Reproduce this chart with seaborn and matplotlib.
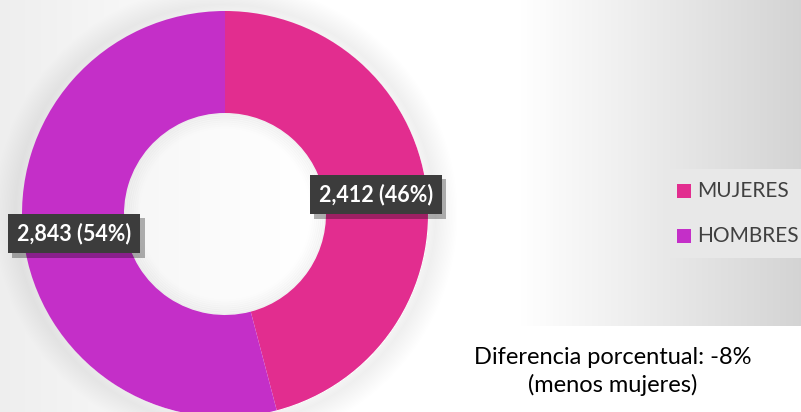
import numpy as np
import matplotlib
matplotlib.use("Agg")
import matplotlib.pyplot as plt
import matplotlib.patheffects as pe
from matplotlib.patches import Rectangle, Circle
import seaborn as sns

# ---- data ----
categories = ["MUJERES", "HOMBRES"]
values = [2412, 2843]
colors = ["#E22D8F", "#C42FC8"]
note_lines = ["Diferencia porcentual: -8%", "(menos mujeres)"]

sns.set_theme(style="white")
plt.rcParams["font.family"] = ["Lato", "DejaVu Sans"]

W, H = 801, 412
fig = plt.figure(figsize=(W / 100, H / 100), dpi=100)
ax = fig.add_axes([0, 0, 1, 1])
ax.set_xlim(0, W)
ax.set_ylim(0, H)
ax.set_aspect("equal")
ax.axis("off")

# ---- background gradient ----
xs = np.arange(W)
ys = np.arange(H)
X, Y = np.meshgrid(xs, ys)
base = np.interp(X, [0, 120, 300, 520, 801], [0.935, 0.965, 1.0, 1.0, 0.83])
cx, cy_top = 225, 214
d = np.sqrt((X - cx) ** 2 + (Y - cy_top) ** 2)
glow = np.clip(1 - np.abs(d - 210) / 22, 0, 1) * 0.06
bg = np.clip(base - glow * (d > 203), 0, 1)
img = np.dstack([bg, bg, bg])
ax.imshow(img, extent=[0, W, 0, H], origin="upper", zorder=0, interpolation="bilinear")

# white box bottom-right
ax.add_patch(Rectangle((432, 0), W - 432, H - 326, facecolor="white", edgecolor="none", zorder=1))

# ---- donut ----
center = (225, H - 214)
R = 203
ring = 102
wedges, _ = ax.pie(values, colors=colors, startangle=90, counterclock=False,
                   radius=R, center=center, frame=True,
                   wedgeprops=dict(width=ring, edgecolor="none", linewidth=0))
for w in wedges:
    w.set_zorder(3)
ax.set_xlim(0, W)
ax.set_ylim(0, H)
ax.axis("off")

# inner hole subtle shade
for i, a in enumerate(np.linspace(0.06, 0.0, 9)):
    ax.add_patch(Circle(center, R - ring - i * 2, facecolor="none",
                        edgecolor=(0.5, 0.5, 0.5, a), linewidth=2.2, zorder=2.5))

# ---- labels ----
total = sum(values)
rmid = R - ring / 2
for w, v in zip(wedges, values):
    ang = np.deg2rad((w.theta1 + w.theta2) / 2)
    x = center[0] + rmid * np.cos(ang)
    y = center[1] + rmid * np.sin(ang)
    t = ax.text(x, y, f"{v:,} ({v / total:.0%})", ha="center", va="center",
                color="white", fontsize=15.5, fontweight="bold", zorder=6,
                bbox=dict(boxstyle="square,pad=0.42", facecolor="#3C3C3C",
                          edgecolor="none", linewidth=0))
    t.get_bbox_patch().set_path_effects([
        pe.SimplePatchShadow(offset=(3, -3), shadow_rgbFace="black", alpha=0.3),
        pe.Normal()])

# ---- legend ----
ax.add_patch(Rectangle((665, H - 258), W - 665, 89, facecolor=(0.91, 0.91, 0.91),
                       edgecolor="none", zorder=1))
leg_y = [H - 191, H - 236]
for cat, col, ly in zip(categories, colors, leg_y):
    ax.add_patch(Rectangle((677, ly - 7), 14, 14, facecolor=col, edgecolor="none", zorder=4))
    ax.text(697, ly, cat, ha="left", va="center", fontsize=15, color="#404040", zorder=4)

# ---- note ----
ax.text(613, H - 357, note_lines[0], ha="center", va="center", fontsize=17, color="black", zorder=4)
ax.text(613, H - 385, note_lines[1], ha="center", va="center", fontsize=17, color="black", zorder=4)

sns.despine(ax=ax, left=True, bottom=True)
fig.savefig("out.png", dpi=100)
